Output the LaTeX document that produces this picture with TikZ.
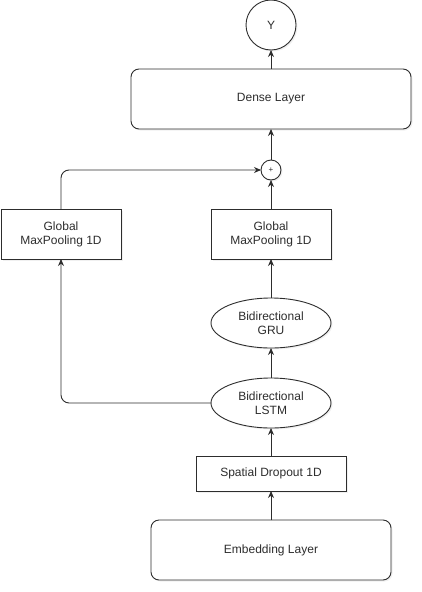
\documentclass[tikz,border=0pt]{standalone}
\usepackage{fontspec}
\setmainfont{Liberation Sans}
\usetikzlibrary{shapes.misc, positioning}
\usetikzlibrary{shapes}
\usetikzlibrary{shadows}
\usetikzlibrary{arrows.meta}
\usepackage{xcolor}
\definecolor{darkline}{RGB}{45,45,45}

\begin{document}
\begin{tikzpicture}[x=1pt, y=1pt,
    block/.style={draw=darkline, fill=white, text=darkline, align=center, minimum width=120pt, minimum height=50pt, inner sep=2pt, outer sep=0pt,
        drop shadow={opacity=0.12, shadow xshift=1.5pt, shadow yshift=-1.5pt}},
    layer/.style={block, rounded corners=8pt, minimum height=60pt},
    cell/.style={block, ellipse},
    roundnode/.style={block, circle, minimum width=0pt},
    font=\fontsize{12}{14}\selectfont, >={Stealth[length=7pt, width=6pt]}, line width=0.9pt]
    \useasboundingbox (0,0) rectangle (422,-592);

    \draw node[layer, minimum width=240pt] (emb) at (271,-550) {Embedding Layer};
    \draw node[above= 29pt of emb, block, minimum width=150pt, minimum height=35pt] (drop) {Spatial Dropout 1D};
    \draw node[above= 28pt of drop, cell] (lstm) {Bidirectional\\LSTM};
    \draw node[above= 30pt of lstm, cell] (gru) {Bidirectional\\GRU};
    \draw node[above= 39pt of gru, block] (gmpr) {Global\\MaxPooling 1D};
    \draw node[above= 29pt of gmpr, roundnode, minimum size=20pt, inner sep=0pt, font=\fontsize{8}{8}\selectfont] (add) {+};
    \draw node[left= 90pt of gmpr, block] (gmpl) {Global\\MaxPooling 1D};
    \draw node[above= 31pt of add, layer, minimum width=280pt] (dense) {Dense Layer};
    \draw node[above= 19pt of dense, roundnode, minimum size=50pt] (out) {Y};

    \draw[->, darkline](emb) -- (drop);
    \draw[->, darkline](drop) -- (lstm);
    \draw[->, darkline](lstm) -- (gru);
    \draw[->, darkline](gru) -- (gmpr);
    \draw[->, darkline](gmpr) -- (add);
    \draw[->, darkline](add) -- (dense);
    \draw[->, darkline](dense) -- (out);
    \draw[->, darkline, rounded corners=8pt](lstm.west) -| (gmpl.south);
    \draw[->, darkline, rounded corners=8pt](gmpl.north) |- (add.west);
\end{tikzpicture}
\end{document}
